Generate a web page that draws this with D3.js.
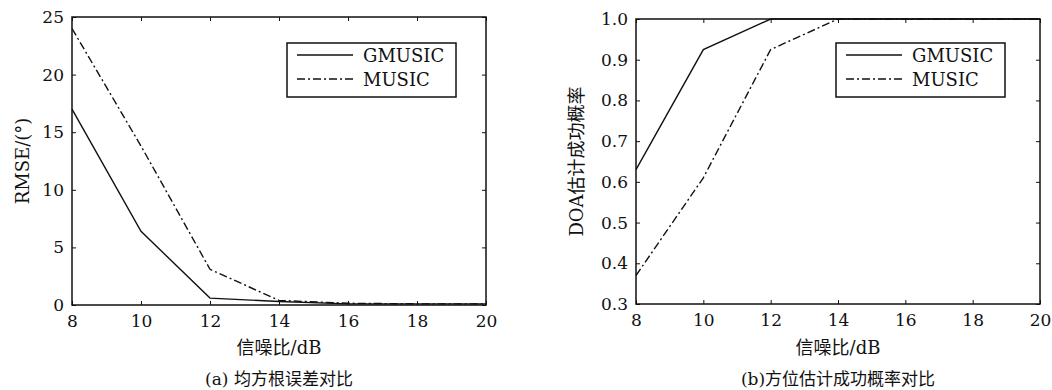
<!DOCTYPE html>
<html>
<head>
<meta charset="utf-8">
<script src="https://cdn.jsdelivr.net/npm/d3@7"></script>
<style>
  body { margin: 0; background: #fff; }
  svg text { font-family: "DejaVu Serif", "Liberation Serif", "Noto Sans CJK SC", serif; fill: #111; }
</style>
</head>
<body>
<svg id="chart" width="1052" height="390"></svg>
<script>
const snr = [8, 10, 12, 14, 16, 18, 20];
const xTicks = [8, 10, 12, 14, 16, 18, 20];

// (a) RMSE
const rmseGmusic = [17, 6.4, 0.6, 0.3, 0.1, 0.1, 0.1];
const rmseMusic = [24, 13.8, 3.1, 0.4, 0.15, 0.1, 0.1];
const rmseTicks = [0, 5, 10, 15, 20, 25];

// (b) success probability
const probGmusic = [0.63, 0.925, 1.0, 1.0, 1.0, 1.0, 1.0];
const probMusic = [0.37, 0.61, 0.925, 1.0, 1.0, 1.0, 1.0];
const probTicks = [0.3, 0.4, 0.5, 0.6, 0.7, 0.8, 0.9, 1.0];

const seriesNames = ['GMUSIC', 'MUSIC'];
const dashes = [null, '8,3,2,3'];

const svg = d3.select('#chart');

function drawPanel(opt) {
  const g = svg.append('g');
  const x = d3.scaleLinear().domain([8, 20]).range([opt.left, opt.right]);
  const y = d3.scaleLinear().domain(opt.yDomain).range([opt.bottom, opt.top]);
  const cjk = '"DejaVu Serif", "Noto Sans CJK SC", serif';

  // data lines
  const line = d3.line().x((d, i) => x(snr[i])).y(d => y(d));
  opt.series.forEach((s, k) => {
    g.append('path')
      .datum(s)
      .attr('d', line)
      .attr('fill', 'none')
      .attr('stroke', '#111')
      .attr('stroke-width', 1.4)
      .attr('stroke-dasharray', dashes[k]);
  });

  // axes with inward ticks on all sides
  g.append('g')
    .attr('transform', `translate(0,${opt.bottom})`)
    .call(d3.axisBottom(x).tickValues(xTicks).tickSizeInner(-4).tickSizeOuter(0).tickPadding(10))
    .call(a => a.select('.domain').remove())
    .selectAll('text').style('font-size', '17px');
  g.append('g')
    .attr('transform', `translate(0,${opt.top})`)
    .call(d3.axisTop(x).tickValues(xTicks).tickSizeInner(-4).tickSizeOuter(0).tickFormat(''))
    .call(a => a.select('.domain').remove());
  g.append('g')
    .attr('transform', `translate(${opt.left},0)`)
    .call(d3.axisLeft(y).tickValues(opt.yTicks).tickSizeInner(-4).tickSizeOuter(0).tickPadding(8).tickFormat(opt.yFormat))
    .call(a => a.select('.domain').remove())
    .selectAll('text').style('font-size', '17px');
  g.append('g')
    .attr('transform', `translate(${opt.right},0)`)
    .call(d3.axisRight(y).tickValues(opt.yTicks).tickSizeInner(-4).tickSizeOuter(0).tickFormat(''))
    .call(a => a.select('.domain').remove());
  g.selectAll('.tick line').attr('stroke', '#111');

  // frame
  g.append('rect')
    .attr('x', opt.left).attr('y', opt.top)
    .attr('width', opt.right - opt.left).attr('height', opt.bottom - opt.top)
    .attr('fill', 'none').attr('stroke', '#111').attr('stroke-width', 1.5);

  // legend
  const lx = opt.legend[0], ly = opt.legend[1];
  g.append('rect')
    .attr('x', lx).attr('y', ly).attr('width', 169).attr('height', 54)
    .attr('fill', '#fff').attr('stroke', '#111').attr('stroke-width', 1.5);
  seriesNames.forEach((n, k) => {
    const yy = ly + 12 + k * 24;
    g.append('line')
      .attr('x1', lx + 10).attr('x2', lx + 66)
      .attr('y1', yy).attr('y2', yy)
      .attr('stroke', '#111').attr('stroke-width', 1.4)
      .attr('stroke-dasharray', dashes[k]);
    g.append('text')
      .attr('x', lx + 76).attr('y', yy + 7)
      .style('font-size', '18px')
      .text(n);
  });

  // titles
  const cx = (opt.left + opt.right) / 2;
  g.append('text')
    .attr('x', cx).attr('y', 354)
    .attr('text-anchor', 'middle')
    .style('font-family', cjk).style('font-size', '18px')
    .text('信噪比/dB');
  g.append('text')
    .attr('x', cx).attr('y', 385)
    .attr('text-anchor', 'middle')
    .style('font-family', cjk).style('font-size', '17px')
    .text(opt.caption);
  g.append('text')
    .attr('transform', `translate(${opt.yLabelX},${(opt.top + opt.bottom) / 2}) rotate(-90)`)
    .attr('text-anchor', 'middle')
    .style('font-family', cjk).style('font-size', '18px')
    .text(opt.yLabel);
}

drawPanel({
  left: 72, right: 486, top: 17, bottom: 305,
  yDomain: [0, 25], yTicks: rmseTicks, yFormat: d3.format('d'),
  series: [rmseGmusic, rmseMusic],
  legend: [287, 43],
  yLabel: 'RMSE/(°)', yLabelX: 29,
  caption: '(a) 均方根误差对比'
});

drawPanel({
  left: 636, right: 1040, top: 19, bottom: 304,
  yDomain: [0.3, 1.0], yTicks: probTicks, yFormat: d3.format('.1f'),
  series: [probGmusic, probMusic],
  legend: [836, 43],
  yLabel: 'DOA估计成功概率', yLabelX: 583,
  caption: '(b)方位估计成功概率对比'
});
</script>
</body>
</html>
